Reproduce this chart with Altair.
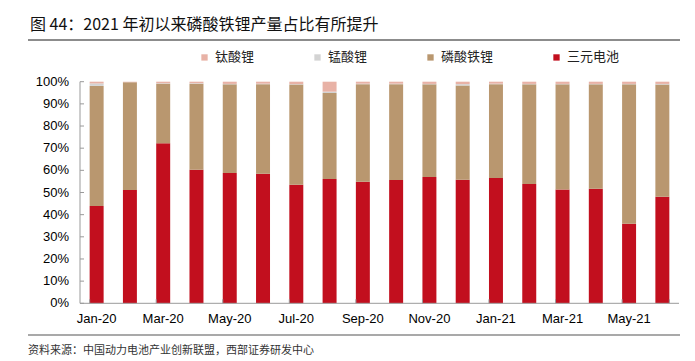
import altair as alt
import pandas as pd

months = ["Jan-20", "Feb-20", "Mar-20", "Apr-20", "May-20", "Jun-20", "Jul-20", "Aug-20", "Sep-20",
          "Oct-20", "Nov-20", "Dec-20", "Jan-21", "Feb-21", "Mar-21", "Apr-21", "May-21", "Jun-21"]
ncm = [43.9, 51.1, 72.2, 60.3, 58.8, 58.5, 53.5, 56.1, 54.8, 55.6, 57.0, 55.8, 56.5, 53.8, 51.3, 51.7, 35.9, 48.1]
lfp = [54.2, 48.6, 26.9, 38.8, 40.0, 40.4, 45.2, 38.8, 44.1, 43.3, 41.8, 42.5, 42.4, 45.0, 47.5, 47.1, 62.9, 50.6]
lmo = [1.1, 0.1, 0.2, 0.2, 0.2, 0.2, 0.2, 0.6, 0.2, 0.2, 0.2, 0.6, 0.2, 0.2, 0.2, 0.2, 0.2, 0.3]
lto = [0.8, 0.2, 0.7, 0.7, 1.0, 0.9, 1.1, 4.5, 0.9, 0.9, 1.0, 1.1, 0.9, 1.0, 1.0, 1.0, 1.0, 1.0]

series_names = ["钛酸锂", "锰酸锂", "磷酸铁锂", "三元电池"]
series_colors = ["#E8B2A6", "#D3D3D3", "#B9976F", "#C20F1E"]
stack_order = {"三元电池": 0, "磷酸铁锂": 1, "锰酸锂": 2, "钛酸锂": 3}

label_months = months[0::2]
y_ticks = [0, 10, 20, 30, 40, 50, 60, 70, 80, 90, 100]
y_tick_labels = ["0%", "10%", "20%", "30%", "40%", "50%", "60%", "70%", "80%", "90%", "100%"]

title_text = "图 44：2021 年初以来磷酸铁锂产量占比有所提升"
source_text = "资料来源：中国动力电池产业创新联盟，西部证券研发中心"

rows = []
for i, m in enumerate(months):
    for name, vals in [("三元电池", ncm), ("磷酸铁锂", lfp), ("锰酸锂", lmo), ("钛酸锂", lto)]:
        rows.append({"month": m, "type": name, "value": vals[i], "ord": stack_order[name]})
df = pd.DataFrame(rows)

CW, CH = 679, 349
L, R, T, B = 72, 671, 73.7, 295.3
AX = "#9A9A9A"
LATIN = "Liberation Sans"
CJK = "Noto Sans CJK SC"

xscale = alt.Scale(domain=months, range=[L, R], paddingInner=0.58, paddingOuter=0.29)
yscale = alt.Scale(domain=[0, 100], range=[B, T], nice=False)

bars = alt.Chart(df).mark_bar().encode(
    x=alt.X("month:N", sort=months, scale=xscale, axis=None),
    y=alt.Y("value:Q", stack="zero", scale=yscale, axis=None),
    color=alt.Color("type:N", scale=alt.Scale(domain=series_names, range=series_colors),
                    legend=alt.Legend(orient="none", legendX=190, legendY=42.7, direction="horizontal",
                                      columns=4, title=None, symbolType="square", symbolSize=40,
                                      symbolStrokeWidth=0, columnPadding=56, labelOffset=4,
                                      labelFont=CJK, labelFontSize=13, labelColor="#222222", padding=0)),
    order=alt.Order("ord:Q"),
)

helper = pd.DataFrame({"k": [0]})
y_domain = alt.Chart(helper).mark_rule(color=AX, strokeWidth=1).encode(
    x=alt.value(L), y=alt.value(T), y2=alt.value(B))
x_domain = alt.Chart(helper).mark_rule(color=AX, strokeWidth=1).encode(
    x=alt.value(L), x2=alt.value(R), y=alt.value(B))

xt = pd.DataFrame({"month": label_months})
xticks = alt.Chart(xt).mark_rule(color=AX, strokeWidth=1).encode(
    x=alt.X("month:N", sort=months, scale=xscale, bandPosition=0, axis=None),
    y=alt.value(B), y2=alt.value(B - 4))
xt_end = pd.DataFrame({"month": [months[-1]]})
xtick_end = alt.Chart(xt_end).mark_rule(color=AX, strokeWidth=1).encode(
    x=alt.X("month:N", sort=months, scale=xscale, bandPosition=1, axis=None),
    y=alt.value(B), y2=alt.value(B - 4))
xlabels = alt.Chart(xt).mark_text(baseline="top", align="center", font=LATIN, fontSize=13,
                                  color="#000000").encode(
    x=alt.X("month:N", sort=months, scale=xscale, axis=None),
    y=alt.value(B + 10), text="month:N")

yt = pd.DataFrame({"value": y_ticks, "label": y_tick_labels})
yticks = alt.Chart(yt).mark_rule(color=AX, strokeWidth=1).encode(
    y=alt.Y("value:Q", scale=yscale, axis=None), x=alt.value(L), x2=alt.value(L + 4))
ylabels = alt.Chart(yt).mark_text(align="right", baseline="middle", font=LATIN, fontSize=13,
                                  color="#000000").encode(
    y=alt.Y("value:Q", scale=yscale, axis=None), x=alt.value(L - 11), text="label:N")

one = pd.DataFrame({"t": [title_text]})
title = alt.Chart(one).mark_text(align="left", baseline="middle", font=CJK, fontSize=16,
                                 color="#111111").encode(
    x=alt.value(22), y=alt.value(16.7), text="t:N")
title_line = alt.Chart(one).mark_rule(color="#8C8C8C", strokeWidth=2).encode(
    x=alt.value(20), x2=alt.value(672), y=alt.value(32))

src = pd.DataFrame({"t": [source_text]})
source = alt.Chart(src).mark_text(align="left", baseline="middle", font=CJK, fontSize=11,
                                  color="#333333").encode(
    x=alt.value(20), y=alt.value(342.5), text="t:N")
source_line = alt.Chart(src).mark_rule(color="#8C8C8C", strokeWidth=1.5).encode(
    x=alt.value(20), x2=alt.value(672), y=alt.value(327))

chart = alt.layer(bars, y_domain, x_domain, xticks, xtick_end, xlabels, yticks, ylabels,
                  title, title_line, source, source_line).properties(
    width=CW, height=CH,
    padding=0,
    autosize=alt.AutoSizeParams(type="none"),
).configure_view(stroke=None)

chart.save("out.html", embed_options={"renderer": "svg", "actions": False})
